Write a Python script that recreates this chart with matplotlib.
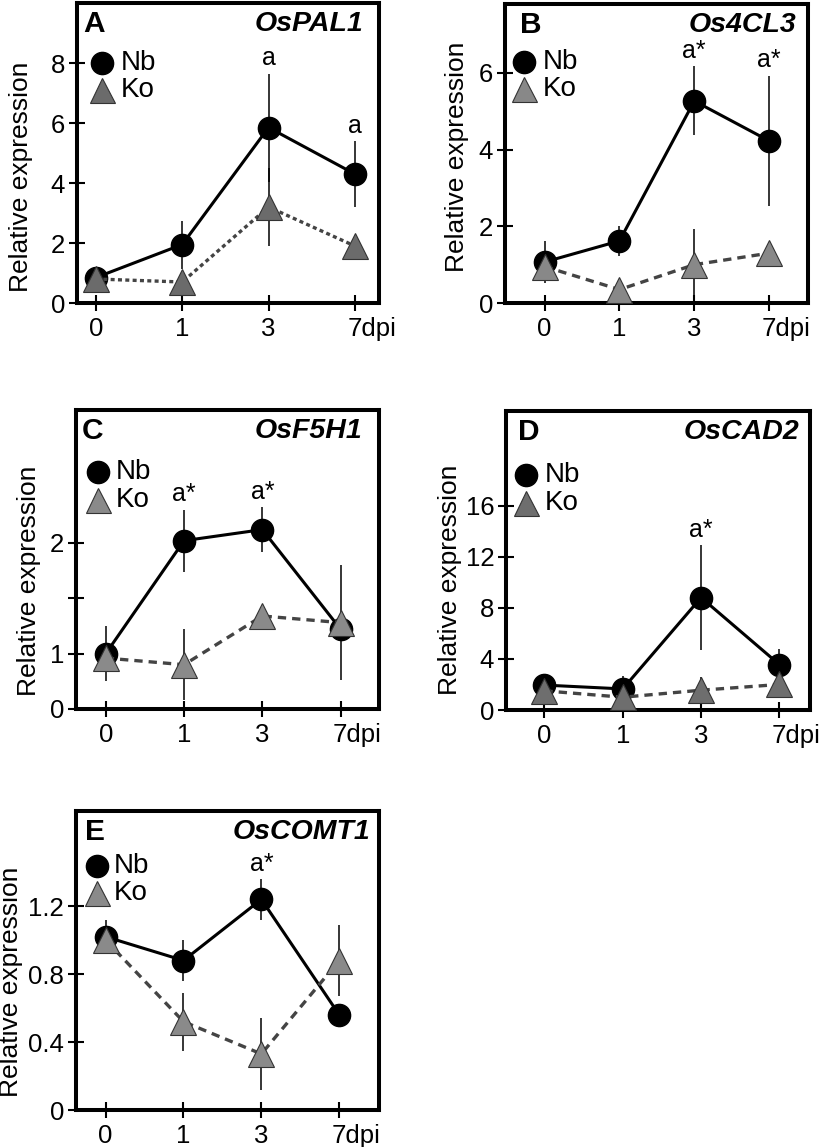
import matplotlib.pyplot as plt
from matplotlib.transforms import offset_copy

plt.rcParams['font.family'] = ['Liberation Sans', 'DejaVu Sans']

days = ['0', '1', '3', '7dpi']
pos = [0, 1, 2, 3]

# A  OsPAL1
pal1_nb = [0.85, 1.95, 5.85, 4.3]
pal1_nb_err = [0.15, 0.8, 1.8, 1.1]
pal1_ko = [0.8, 0.7, 3.2, 1.9]
pal1_ko_err = [0.1, 0.1, 1.3, 0.1]
pal1_marks = {2: 'a', 3: 'a'}

# B  Os4CL3
cl3_nb = [1.07, 1.62, 5.27, 4.23]
cl3_nb_err = [0.55, 0.4, 0.9, 1.7]
cl3_ko = [0.95, 0.35, 1.0, 1.3]
cl3_ko_err = [0.3, 0.1, 0.92, 0.1]
cl3_marks = {2: 'a*', 3: 'a*'}

# C  OsF5H1 (axis starts at 0.5, labelled "0")
f5h1_nb = [1.0, 2.02, 2.12, 1.22]
f5h1_nb_err = [0.25, 0.28, 0.2, 0.1]
f5h1_ko = [0.96, 0.9, 1.34, 1.28]
f5h1_ko_err = [0.05, 0.32, 0.05, 0.52]
f5h1_marks = {1: 'a*', 2: 'a*'}

# D  OsCAD2
cad2_nb = [1.95, 1.65, 8.8, 3.55]
cad2_nb_err = [0.9, 1.0, 4.1, 1.2]
cad2_ko = [1.5, 1.0, 1.55, 2.0]
cad2_ko_err = [0.3, 0.3, 1.0, 0.3]
cad2_marks = {2: 'a*'}

# E  OsCOMT1
comt1_nb = [1.02, 0.88, 1.24, 0.56]
comt1_nb_err = [0.1, 0.12, 0.12, 0.0]
comt1_ko = [1.0, 0.52, 0.33, 0.88]
comt1_ko_err = [0.05, 0.17, 0.21, 0.21]
comt1_marks = {2: 'a*'}


def panel(fig, box, letter, gene, nb, nb_err, ko, ko_err, marks,
          ylim, yticks, yticklabels, xlim, ko_fill, ko_ls, leg, ylab, gene_x, letter_x):
    W, H = 822.0, 1147.0
    l, r, t, b = box
    ax = fig.add_axes([l / W, 1 - b / H, (r - l) / W, (b - t) / H])

    ax.errorbar(pos, nb, yerr=nb_err, fmt='none', ecolor='black', elinewidth=1.1, capsize=0, zorder=1)
    ax.errorbar(pos, ko, yerr=ko_err, fmt='none', ecolor='black', elinewidth=1.1, capsize=0, zorder=1)
    ax.plot(pos, nb, '-o', color='black', lw=2.2, ms=16, zorder=2)
    ax.plot(pos, ko, color='#444444', ls=ko_ls, lw=2.4, zorder=3)
    ax.plot(pos, ko, '^', ms=18.5, mfc=ko_fill, mec='#333333', mew=0.8, ls='none', zorder=4)

    for i, s in marks.items():
        tr = offset_copy(ax.transData, fig=fig, x=0, y=6, units='points')
        ax.text(pos[i], nb[i] + nb_err[i], s, ha='center', va='baseline', fontsize=18, transform=tr)

    ax.set_xlim(xlim)
    ax.set_ylim(ylim)
    ax.set_xticks(pos)
    ax.set_xticklabels([])
    ax.set_yticks(yticks)
    ax.set_yticklabels(yticklabels)
    ax.tick_params(direction='inout', length=11, width=1.5, pad=3, labelsize=18.5)
    for s in ax.spines.values():
        s.set_linewidth(2.9)

    # x labels, "7" of "7dpi" centred on its tick
    xtr = ax.get_xaxis_transform()
    for p, d in zip(pos, days):
        if d == '7dpi':
            tr = offset_copy(xtr, fig=fig, x=-5.5, y=-10, units='points')
            ax.text(p, 0, d, ha='left', va='top', fontsize=18.5, transform=tr)
        else:
            tr = offset_copy(xtr, fig=fig, x=0, y=-10, units='points')
            ax.text(p, 0, d, ha='center', va='top', fontsize=18.5, transform=tr)

    ax.text(ylab[0], ylab[1], 'Relative expression', rotation=90, ha='center', va='center',
            fontsize=19, transform=ax.transAxes)
    ax.text(letter_x, 0.93, letter, ha='left', va='center', fontsize=21.5, fontweight='bold',
            transform=ax.transAxes)
    ax.text(gene_x, 0.93, gene, ha='right', va='center', fontsize=20.5, fontweight='bold',
            fontstyle='italic', transform=ax.transAxes)

    # legend
    lx, ly1, ly2, tx = leg
    ax.plot([lx], [ly1], 'o', color='black', ms=16, transform=ax.transAxes, clip_on=False)
    ax.plot([lx], [ly2], '^', ms=18, mfc=ko_fill, mec='#333333', mew=0.8,
            transform=ax.transAxes, clip_on=False)
    ax.text(tx, ly1, 'Nb', ha='left', va='center', fontsize=20, transform=ax.transAxes)
    ax.text(tx, ly2, 'Ko', ha='left', va='center', fontsize=20, transform=ax.transAxes)
    return ax


fig = plt.figure(figsize=(8.22, 11.47), dpi=100)

panel(fig, (77, 379, 3, 303), 'A', 'OsPAL1', pal1_nb, pal1_nb_err, pal1_ko, pal1_ko_err, pal1_marks,
      (0, 10), [0, 2, 4, 6, 8], ['0', '2', '4', '6', '8'], (-0.22, 3.28),
      '#6b6b6b', (0, (1.2, 1.0)), (0.083, 0.80, 0.71, 0.145), (-0.185, 0.42), 0.947, 0.02)

panel(fig, (505, 808, 4, 303), 'B', 'Os4CL3', cl3_nb, cl3_nb_err, cl3_ko, cl3_ko_err, cl3_marks,
      (0, 7.8), [0, 2, 4, 6], ['0', '2', '4', '6'], (-0.53, 3.52),
      '#888888', (0, (2.5, 1.8)), (0.063, 0.806, 0.716, 0.125), (-0.16, 0.49), 0.96, 0.05)

panel(fig, (76, 379, 410, 709), 'C', 'OsF5H1', f5h1_nb, f5h1_nb_err, f5h1_ko, f5h1_ko_err, f5h1_marks,
      (0.5, 3.2), [0.5, 1, 1.5, 2], ['0', '1', '', '2'], (-0.38, 3.49),
      '#8a8a8a', (0, (2.5, 1.8)), (0.073, 0.794, 0.699, 0.132), (-0.155, 0.43), 0.944, 0.02)

panel(fig, (506, 810, 411, 710), 'D', 'OsCAD2', cad2_nb, cad2_nb_err, cad2_ko, cad2_ko_err, cad2_marks,
      (0, 23.4), [0, 4, 8, 12, 16], ['0', '4', '8', '12', '16'], (-0.49, 3.39),
      '#6e6e6e', (0, (2.5, 1.8)), (0.066, 0.786, 0.692, 0.128), (-0.185, 0.435), 0.964, 0.04)

panel(fig, (76, 379, 811, 1110), 'E', 'OsCOMT1', comt1_nb, comt1_nb_err, comt1_ko, comt1_ko_err, comt1_marks,
      (0, 1.76), [0, 0.4, 0.8, 1.2], ['0', '0.4', '0.8', '1.2'], (-0.38, 3.51),
      '#8a8a8a', (0, (2.5, 1.8)), (0.069, 0.816, 0.727, 0.125), (-0.215, 0.43), 0.97, 0.03)

fig.savefig('out.png', dpi=100)
